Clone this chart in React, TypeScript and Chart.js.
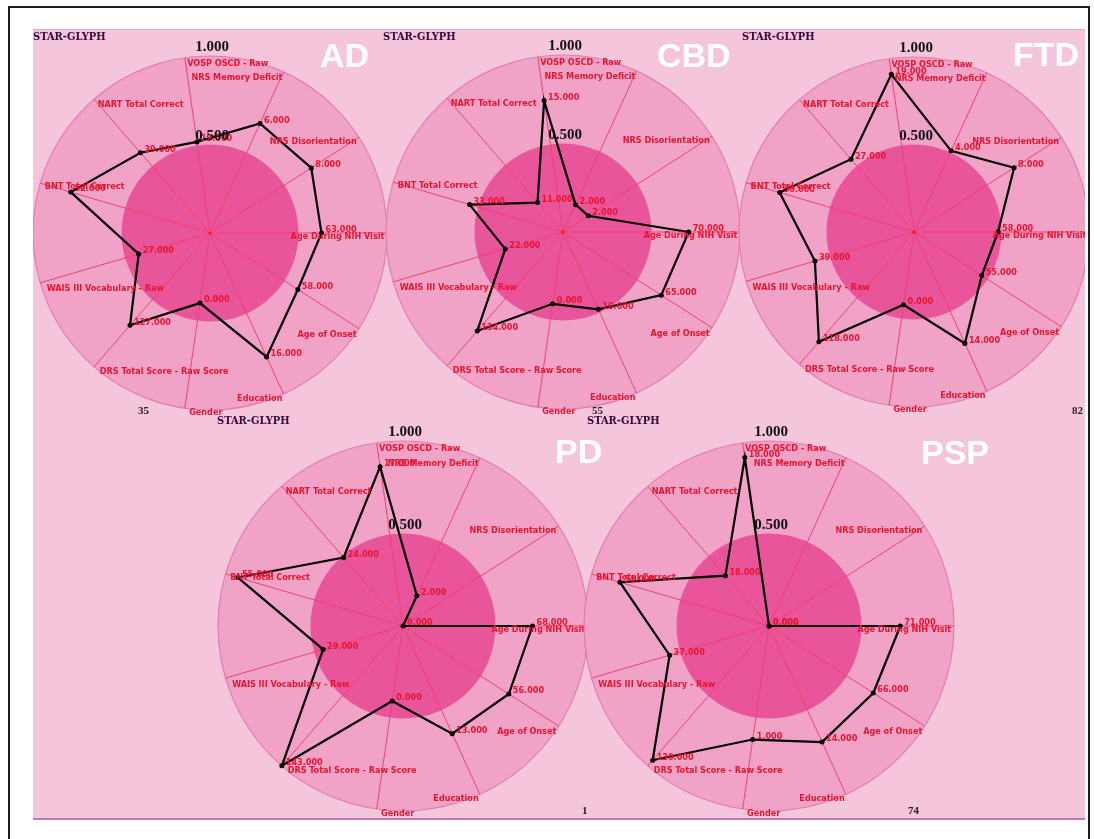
import React, { useEffect, useRef } from 'react';
import { Chart, registerables } from 'chart.js';

Chart.register(...registerables);

// ---------- data ----------
const axisLabels = [
  'Age During NIH Visit',
  'Age of Onset',
  'Education',
  'Gender',
  'DRS Total Score - Raw Score',
  'WAIS III Vocabulary - Raw',
  'BNT Total Correct',
  'NART Total Correct',
  'VOSP OSCD - Raw',
  'NRS Memory Deficit',
  'NRS Disorientation',
];

const groupNames = ['AD', 'CBD', 'FTD', 'PD', 'PSP'];
const groupCounts = ['35', '55', '82', '1', '74'];

const ringTicks = [0.5, 1.0];
const ringTickLabels = ['0.500', '1.000'];

const adValues = [0.63, 0.59, 0.77, 0.4, 0.69, 0.42, 0.82, 0.6, 0.52, 0.68, 0.68];
const adLabels = ['63.000', '58.000', '16.000', '0.000', '127.000', '27.000', '52.000', '39.000', '19.000', '6.000', '8.000'];

const cbdValues = [0.71, 0.66, 0.48, 0.41, 0.74, 0.34, 0.55, 0.22, 0.75, 0.17, 0.17];
const cbdLabels = ['70.000', '65.000', '16.000', '0.000', '134.000', '22.000', '33.000', '11.000', '15.000', '2.000', '2.000'];

const ftdValues = [0.48, 0.46, 0.7, 0.42, 0.83, 0.59, 0.8, 0.55, 0.91, 0.51, 0.68];
const ftdLabels = ['58.000', '55.000', '14.000', '0.000', '118.000', '39.000', '50.000', '27.000', '19.000', '4.000', '8.000'];

const pdValues = [0.7, 0.68, 0.64, 0.41, 1.0, 0.45, 0.93, 0.49, 0.87, 0.18, 0.0];
const pdLabels = ['68.000', '56.000', '13.000', '0.000', '143.000', '29.000', '55.000', '24.000', '17.000', '2.000', '0.000'];

const pspValues = [0.71, 0.67, 0.69, 0.62, 0.96, 0.56, 0.84, 0.36, 0.92, 0.0, 0.0];
const pspLabels = ['71.000', '66.000', '14.000', '1.000', '130.000', '37.000', '54.000', '18.000', '18.000', '0.000', '0.000'];

const groupValues = [adValues, cbdValues, ftdValues, pdValues, pspValues];
const groupValueLabels = [adLabels, cbdLabels, ftdLabels, pdLabels, pspLabels];

// ---------- layout / style ----------
const PAD = 40;
const PANEL_BG = '#f5c5db';
const OUTER_FILL = '#f1a2c7';
const OUTER_EDGE = '#e07db0';
const INNER_FILL = '#e8559a';
const SPOKE = 'rgba(232, 52, 105, 0.85)';
const SPOKE_INNER = 'rgba(246, 60, 110, 0.9)';
const RED = '#e8142f';
const LABEL_FONT = 'bold 9px "Liberation Sans Narrow", "DejaVu Sans Condensed", "Arial Narrow", sans-serif';
const TICK_FONT = 'bold 15px "Liberation Serif", "DejaVu Serif", serif';

// rows: clip boxes in page coordinates
const rows = [
  { left: 33, top: 29, width: 1052, height: 387 },
  { left: 33, top: 416, width: 1052, height: 401 },
];

// glyph placement (page coordinates)
const glyphLayout = [
  { row: 0, cx: 210, cy: 233, r: 177, nameX: 320, nameY: 38, starX: 33, starY: 31, cntX: 138, cntY: 405 },
  { row: 0, cx: 563, cy: 232, r: 177, nameX: 657, nameY: 38, starX: 383, starY: 31, cntX: 592, cntY: 405 },
  { row: 0, cx: 914, cy: 232, r: 175, nameX: 1013, nameY: 37, starX: 742, starY: 31, cntX: 1072, cntY: 405 },
  { row: 1, cx: 403, cy: 626, r: 185, nameX: 555, nameY: 434, starX: 217, starY: 415, cntX: 582, cntY: 805 },
  { row: 1, cx: 769, cy: 626, r: 185, nameX: 921, nameY: 435, starX: 587, starY: 415, cntX: 908, cntY: 805 },
];

const glyphPlugin = {
  id: 'glyph',
  beforeDatasetsDraw(chart: any) {
    const s = chart.scales.r;
    const ctx = chart.ctx;
    const rIn = s.getDistanceFromCenterForValue(0.5);
    ctx.save();
    ctx.beginPath();
    ctx.arc(s.xCenter, s.yCenter, rIn, 0, Math.PI * 2);
    ctx.fillStyle = INNER_FILL;
    ctx.fill();
    ctx.strokeStyle = SPOKE_INNER;
    ctx.lineWidth = 1;
    for (let i = 0; i < axisLabels.length; i++) {
      const p = s.getPointPosition(i, rIn);
      ctx.beginPath();
      ctx.moveTo(s.xCenter, s.yCenter);
      ctx.lineTo(p.x, p.y);
      ctx.stroke();
    }
    ctx.beginPath();
    ctx.arc(s.xCenter, s.yCenter, 1.5, 0, Math.PI * 2);
    ctx.fillStyle = RED;
    ctx.fill();
    ctx.restore();
  },
  afterDatasetsDraw(chart: any, _args: any, opts: any) {
    const s = chart.scales.r;
    const ctx = chart.ctx;
    const R = s.drawingArea;
    ctx.save();
    // axis names
    ctx.font = LABEL_FONT;
    ctx.fillStyle = RED;
    ctx.textBaseline = 'middle';
    axisLabels.forEach((lab, i) => {
      const p = s.getPointPosition(i, R * 0.985);
      const c = Math.cos(p.angle);
      const sn = Math.sin(p.angle);
      let x = p.x;
      let y = p.y;
      if (c > 0.05) {
        ctx.textAlign = 'right';
      } else if (c < -0.05) {
        ctx.textAlign = 'left';
        x += sn > 0.1 ? 4 : 2;
      } else {
        ctx.textAlign = 'center';
      }
      y += sn > 0.1 ? 7 : sn < -0.1 ? 3 : 4;
      ctx.fillText(lab, x, y);
    });
    // value labels next to each point
    const meta = chart.getDatasetMeta(0);
    ctx.textAlign = 'left';
    meta.data.forEach((pt: any, i: number) => {
      ctx.fillText(opts.valueLabels[i], pt.x + 4, pt.y - 3);
    });
    // ring tick labels
    ctx.font = TICK_FONT;
    ctx.fillStyle = '#111';
    ctx.textAlign = 'center';
    ctx.textBaseline = 'bottom';
    ringTicks.forEach((v, i) => {
      const d = s.getDistanceFromCenterForValue(v);
      ctx.fillText(ringTickLabels[i], s.xCenter + 2, s.yCenter - d - 1);
    });
    ctx.restore();
  },
};

function Glyph({ index }: { index: number }) {
  const ref = useRef<HTMLCanvasElement>(null);
  const g = glyphLayout[index];
  const row = rows[g.row];
  const size = 2 * g.r + 2 * PAD;
  useEffect(() => {
    const chart = new Chart(ref.current as HTMLCanvasElement, {
      type: 'radar',
      data: {
        labels: axisLabels,
        datasets: [
          {
            data: groupValues[index],
            borderColor: '#000',
            borderWidth: 2.2,
            backgroundColor: 'rgba(0,0,0,0)',
            fill: false,
            pointRadius: 2.5,
            pointBorderWidth: 0,
            pointBackgroundColor: '#000',
            tension: 0,
          },
        ],
      },
      options: {
        responsive: false,
        animation: false,
        events: [],
        layout: { padding: PAD },
        plugins: {
          legend: { display: false },
          tooltip: { enabled: false },
          glyph: { valueLabels: groupValueLabels[index] },
        } as any,
        scales: {
          r: {
            min: 0,
            max: 1,
            startAngle: 90,
            backgroundColor: OUTER_FILL,
            ticks: { display: false, stepSize: 0.5 },
            pointLabels: { display: false },
            grid: {
              circular: true,
              lineWidth: 1.2,
              color: (c: any) => (c.tick && c.tick.value === 1 ? OUTER_EDGE : 'rgba(0,0,0,0)'),
            },
            angleLines: { display: true, color: SPOKE, lineWidth: 1 },
          } as any,
        },
      },
      plugins: [glyphPlugin as any],
    });
    return () => chart.destroy();
  }, [index]);
  return (
    <canvas
      ref={ref}
      width={size}
      height={size}
      style={{
        position: 'absolute',
        left: g.cx - g.r - PAD - row.left,
        top: g.cy - g.r - PAD - row.top,
        width: size,
        height: size,
      }}
    />
  );
}

function Texts({ index }: { index: number }) {
  const g = glyphLayout[index];
  const row = rows[g.row];
  return (
    <>
      <div
        style={{
          position: 'absolute',
          left: g.starX - row.left,
          top: g.starY - row.top,
          font: 'bold 11px "DejaVu Serif Condensed", "DejaVu Serif", serif',
          lineHeight: '12px',
          color: '#35083c',
          whiteSpace: 'nowrap',
        }}
      >
        STAR-GLYPH
      </div>
      <div
        style={{
          position: 'absolute',
          left: g.nameX - row.left,
          top: g.nameY - row.top,
          font: 'bold 34px "Liberation Sans", Arial, sans-serif',
          lineHeight: '34px',
          color: '#ffffff',
          whiteSpace: 'nowrap',
        }}
      >
        {groupNames[index]}
      </div>
      <div
        style={{
          position: 'absolute',
          left: g.cntX - row.left,
          top: g.cntY - row.top,
          font: 'bold 11px "Liberation Serif", serif',
          lineHeight: '11px',
          color: '#222',
          whiteSpace: 'nowrap',
        }}
      >
        {groupCounts[index]}
      </div>
    </>
  );
}

export default function App() {
  return (
    <div style={{ position: 'fixed', left: 0, top: 0, width: 1094, height: 839, background: '#fff', overflow: 'hidden' }}>
      <div
        style={{
          position: 'absolute',
          left: 8,
          top: 6,
          width: 1082,
          height: 900,
          boxSizing: 'border-box',
          borderTop: '2.5px solid #1c1c1c',
          borderLeft: '2.5px solid #1c1c1c',
          borderRight: '2.5px solid #1c1c1c',
        }}
      />
      <div
        style={{
          position: 'absolute',
          left: 33,
          top: 29,
          width: 1052,
          height: 788,
          background: PANEL_BG,
          borderTop: '1px solid #dcaacd',
          borderBottom: '2px solid #b67cb8',
          boxSizing: 'content-box',
        }}
      />
      {rows.map((row, ri) => (
        <div
          key={ri}
          style={{
            position: 'absolute',
            left: row.left,
            top: row.top,
            width: row.width,
            height: row.height,
            overflow: 'hidden',
          }}
        >
          {glyphLayout.map((g, gi) =>
            g.row === ri ? <Glyph key={'g' + gi} index={gi} /> : null
          )}
          {glyphLayout.map((g, gi) =>
            g.row === ri ? <Texts key={'t' + gi} index={gi} /> : null
          )}
        </div>
      ))}
    </div>
  );
}
